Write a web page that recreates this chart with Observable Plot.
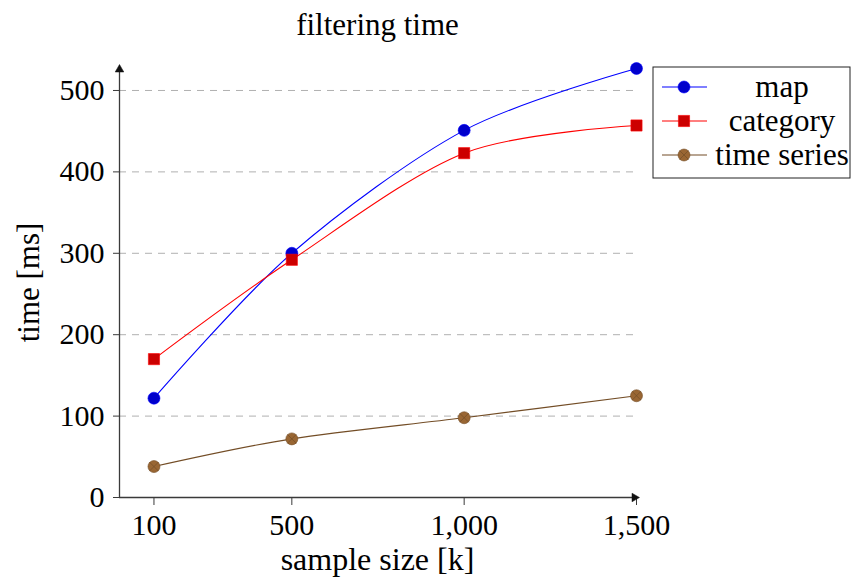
<!DOCTYPE html>
<html><head><meta charset="utf-8">
<script src="https://cdn.jsdelivr.net/npm/d3@7"></script>
<script src="https://cdn.jsdelivr.net/npm/@observablehq/plot@0.6"></script>
<style>body{margin:0;background:#fff}</style>
</head><body><div id="chart"></div>
<script>
// ---- data ----
const sampleSizes = [100, 500, 1000, 1500];
const mapTimes = [122, 300, 451, 527];
const categoryTimes = [170, 292, 423, 457];
const timeSeriesTimes = [38, 72, 98, 125];
const seriesNames = ["map", "category", "time series"];
const xTicks = [100, 500, 1000, 1500];
const yTicks = [0, 100, 200, 300, 400, 500];
const titleText = "filtering time";
const xLabelText = "sample size [k]";
const yLabelText = "time [ms]";

// ---- styles ----
const lineColors = ["#0000ff", "#ff0000", "#734d26"];
const fillColors = ["#0000cc", "#cc0000", "#996633"];
const symbols = ["circle", "square", "circle"];
const FONT = "'Liberation Serif', 'Times New Roman', serif";
const FS = 30;

const seriesValues = [mapTimes, categoryTimes, timeSeriesTimes];
const rows = [];
seriesNames.forEach((s, i) => sampleSizes.forEach((x, j) => rows.push({series: s, x, y: seriesValues[i][j], idx: i})));

const xDomain = [0, 1500];
const yDomain = [0, 527];
const axisColor = "#3a3a3a";

const marks = [
  Plot.gridY(yTicks.filter(d => d > 0), {stroke: "#b0b0b0", strokeOpacity: 1, strokeWidth: 1, strokeDasharray: "7,6"}),
  Plot.axisX({ticks: xTicks, tickFormat: d3.format(","), tickSize: 8, tickPadding: 8, label: null, stroke: axisColor, fontSize: FS}),
  Plot.axisY({ticks: yTicks, tickSize: 6, tickPadding: 9, label: null, stroke: axisColor, fontSize: FS}),
  Plot.ruleY([yDomain[0]], {stroke: axisColor, strokeWidth: 1.3}),
  Plot.ruleX([xDomain[0]], {stroke: axisColor, strokeWidth: 1.3}),
  Plot.dot([0], {x: xDomain[1], y: yDomain[0], symbol: "triangle", r: 3.2, rotate: 90, fill: "#111", stroke: "#111", strokeWidth: 0.5, dx: -2}),
  Plot.dot([0], {x: xDomain[0], y: yDomain[1], symbol: "triangle", r: 3.2, fill: "#111", stroke: "#111", strokeWidth: 0.5, dy: 1}),
];
seriesNames.forEach((s, i) => {
  const data = rows.filter(d => d.series === s);
  marks.push(Plot.line(data, {x: "x", y: "y", stroke: lineColors[i], strokeWidth: 1.1, curve: "cardinal", tension: 0.08}));
});
seriesNames.forEach((s, i) => {
  const data = rows.filter(d => d.series === s);
  marks.push(Plot.dot(data, {x: "x", y: "y", symbol: symbols[i], r: symbols[i] === "square" ? 6.3 : 6, fill: fillColors[i], stroke: lineColors[i], strokeWidth: 0.6}));
  if (s === "time series") {
    marks.push(Plot.dot(data, {x: "x", y: "y", symbol: "times", r: 4.2, stroke: lineColors[i], strokeWidth: 0.7}));
  }
});

const chart = Plot.plot({
  width: 852, height: 577,
  marginLeft: 119, marginRight: 216, marginTop: 68, marginBottom: 80,
  style: {fontFamily: FONT, fontSize: FS + "px", background: "#fff", color: "#000"},
  x: {domain: xDomain},
  y: {domain: yDomain},
  marks
});
document.getElementById("chart").appendChild(chart);

// ---- title, axis labels, legend ----
const svg = d3.select(chart);
const xr = chart.scale("x").range, yr = chart.scale("y").range;
const cx = (xr[0] + xr[1]) / 2, cy = (yr[0] + yr[1]) / 2;
svg.append("text").attr("x", cx).attr("y", 35).attr("text-anchor", "middle")
  .attr("font-family", FONT).attr("font-size", 31).attr("fill", "#000").text(titleText);
svg.append("text").attr("x", cx).attr("y", 570).attr("text-anchor", "middle")
  .attr("font-family", FONT).attr("font-size", 32).attr("fill", "#000").text(xLabelText);
svg.append("text").attr("transform", `translate(39,${cy}) rotate(-90)`).attr("text-anchor", "middle")
  .attr("font-family", FONT).attr("font-size", 31).attr("fill", "#000").text(yLabelText);

const lg = svg.append("g");
const lx = 653, ly = 67, lw = 197, lh = 111;
lg.append("rect").attr("x", lx).attr("y", ly).attr("width", lw).attr("height", lh)
  .attr("fill", "#fff").attr("stroke", "#222").attr("stroke-width", 1);
seriesNames.forEach((s, i) => {
  const yy = ly + 20 + i * 34;
  lg.append("line").attr("x1", lx + 9).attr("x2", lx + 54).attr("y1", yy).attr("y2", yy)
    .attr("stroke", lineColors[i]).attr("stroke-width", 1.1);
  const sym = symbols[i] === "square" ? d3.symbolSquare : d3.symbolCircle;
  const r = symbols[i] === "square" ? 6.3 : 6;
  lg.append("path").attr("d", d3.symbol(sym, Math.PI * r * r)()).attr("transform", `translate(${lx + 31},${yy})`)
    .attr("fill", fillColors[i]).attr("stroke", lineColors[i]).attr("stroke-width", 0.6);
  if (s === "time series") {
    lg.append("path").attr("d", d3.symbol(d3.symbolTimes, Math.PI * 4.2 * 4.2)()).attr("transform", `translate(${lx + 31},${yy})`)
      .attr("fill", "none").attr("stroke", lineColors[i]).attr("stroke-width", 0.7);
  }
  lg.append("text").attr("x", lx + 129).attr("y", yy).attr("dy", "0.32em").attr("text-anchor", "middle")
    .attr("font-family", FONT).attr("font-size", 31).attr("fill", "#000").text(s);
});
</script>
</body></html>
